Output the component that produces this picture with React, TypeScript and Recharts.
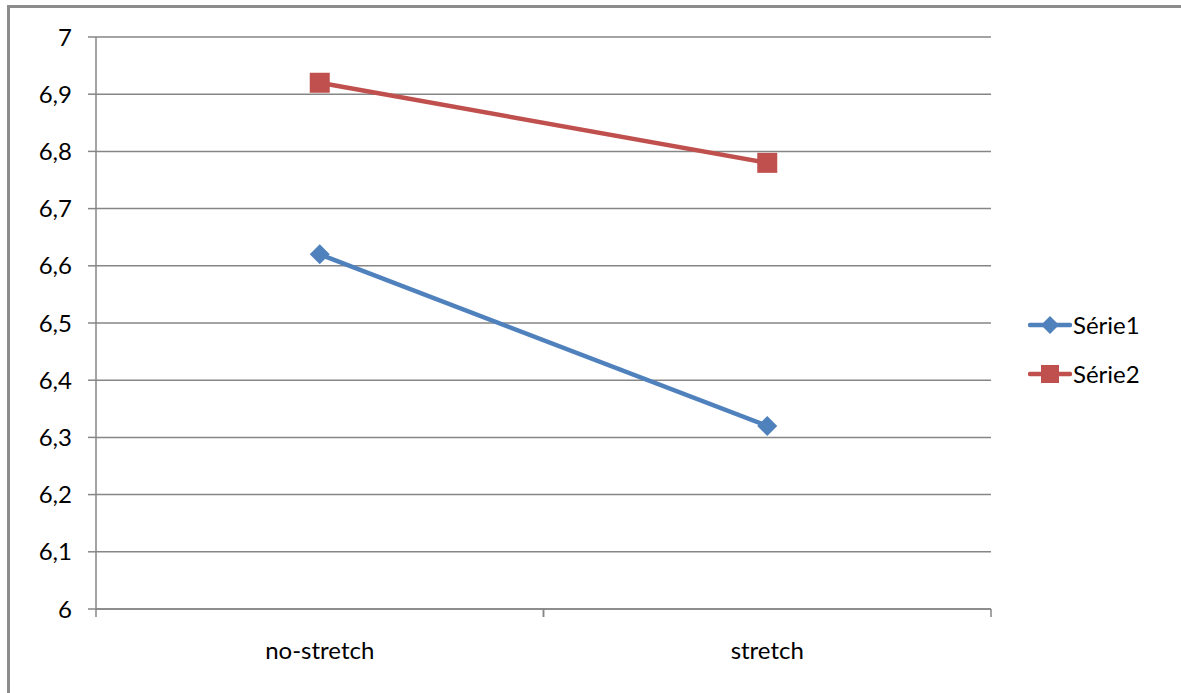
import React from 'react';
import { LineChart, Line, XAxis, YAxis, CartesianGrid, Legend } from 'recharts';

const categories = ['no-stretch', 'stretch'];
const serie1 = [6.62, 6.32];
const serie2 = [6.92, 6.78];
const yTicks = [6, 6.1, 6.2, 6.3, 6.4, 6.5, 6.6, 6.7, 6.8, 6.9, 7];

const BLUE = '#4F81BD';
const RED = '#C0504D';
const GRID = '#868686';
const FONT = 'Lato, "Liberation Sans", sans-serif';
const LABEL_GAP = 33;
const LEGEND_W = 150;

const data = categories.map((name, i) => ({ name, s1: serie1[i], s2: serie2[i] }));

const Diamond = (props: any) => {
  const { cx, cy, fill, r = 10 } = props;
  if (cx == null || cy == null) return null;
  return <path d={`M${cx},${cy - r}L${cx + r},${cy}L${cx},${cy + r}L${cx - r},${cy}Z`} fill={fill} />;
};

const Square = (props: any) => {
  const { cx, cy, fill, r = 10 } = props;
  if (cx == null || cy == null) return null;
  return <rect x={cx - r} y={cy - r} width={r * 2} height={r * 2} fill={fill} />;
};

// category label centred in its band, with the tick marks on the band edges
const CategoryTick = (props: any) => {
  const { x, y, payload } = props;
  const half = payload.offset || 0;
  const axisY = y - LABEL_GAP;
  return (
    <g>
      <line x1={x - half} y1={axisY} x2={x - half} y2={axisY + 8} stroke={GRID} strokeWidth={1.5} />
      <line x1={x + half} y1={axisY} x2={x + half} y2={axisY + 8} stroke={GRID} strokeWidth={1.5} />
      <text x={x} y={y} dy="0.71em" textAnchor="middle" fill="#000" fontSize={24} fontFamily={FONT}>
        {payload.value}
      </text>
    </g>
  );
};

const legendItems = [
  { label: 'Série1', color: BLUE, Marker: Diamond },
  { label: 'Série2', color: RED, Marker: Square },
];

const SideLegend = () => (
  <div style={{ fontFamily: FONT, fontSize: 24, color: '#000' }}>
    {legendItems.map(({ label, color, Marker }) => (
      <div key={label} style={{ display: 'flex', alignItems: 'center', height: 49 }}>
        <svg width={44} height={24} style={{ marginRight: 1 }}>
          <line x1={2} y1={12} x2={42} y2={12} stroke={color} strokeWidth={4.5} strokeLinecap="round" />
          <Marker cx={22} cy={12} r={9} fill={color} />
        </svg>
        <span>{label}</span>
      </div>
    ))}
  </div>
);

export default function App() {
  return (
    <div style={{ position: 'absolute', left: 0, top: 0, width: 1181, height: 693, background: '#fff', overflow: 'hidden' }}>
      <div
        style={{
          position: 'absolute',
          left: 7,
          top: 5,
          width: 1220,
          height: 760,
          border: '3px solid #8c8c8c',
          boxSizing: 'border-box',
        }}
      />
      <LineChart
        width={1181}
        height={693}
        data={data}
        margin={{ top: 37, right: 190 - LEGEND_W, bottom: 0, left: 0 }}
        style={{ position: 'absolute', left: 0, top: 0, fontFamily: FONT }}
      >
        <CartesianGrid vertical={false} stroke={GRID} strokeWidth={1.5} />
        <XAxis
          dataKey="name"
          scale="band"
          axisLine={{ stroke: GRID, strokeWidth: 1.5 }}
          tickLine={false}
          tickSize={0}
          tickMargin={LABEL_GAP}
          height={84}
          interval={0}
          tick={<CategoryTick />}
        />
        <YAxis
          domain={[6, 7]}
          ticks={yTicks}
          width={96}
          interval={0}
          tickSize={8}
          tickMargin={16}
          axisLine={{ stroke: GRID, strokeWidth: 1.5 }}
          tickLine={{ stroke: GRID, strokeWidth: 1.5 }}
          tick={{ fill: '#000', fontSize: 24 }}
          tickFormatter={(v: number) => v.toFixed(v % 1 === 0 ? 0 : 1).replace('.', ',')}
        />
        <Legend
          layout="horizontal"
          align="right"
          verticalAlign="middle"
          content={<SideLegend />}
          wrapperStyle={{ left: 1028, top: 300, width: LEGEND_W }}
        />
        <Line
          dataKey="s1"
          name="Série1"
          stroke={BLUE}
          strokeWidth={4.5}
          dot={<Diamond fill={BLUE} r={10} />}
          activeDot={false}
          isAnimationActive={false}
        />
        <Line
          dataKey="s2"
          name="Série2"
          stroke={RED}
          strokeWidth={4.5}
          dot={<Square fill={RED} r={10} />}
          activeDot={false}
          isAnimationActive={false}
        />
      </LineChart>
    </div>
  );
}
